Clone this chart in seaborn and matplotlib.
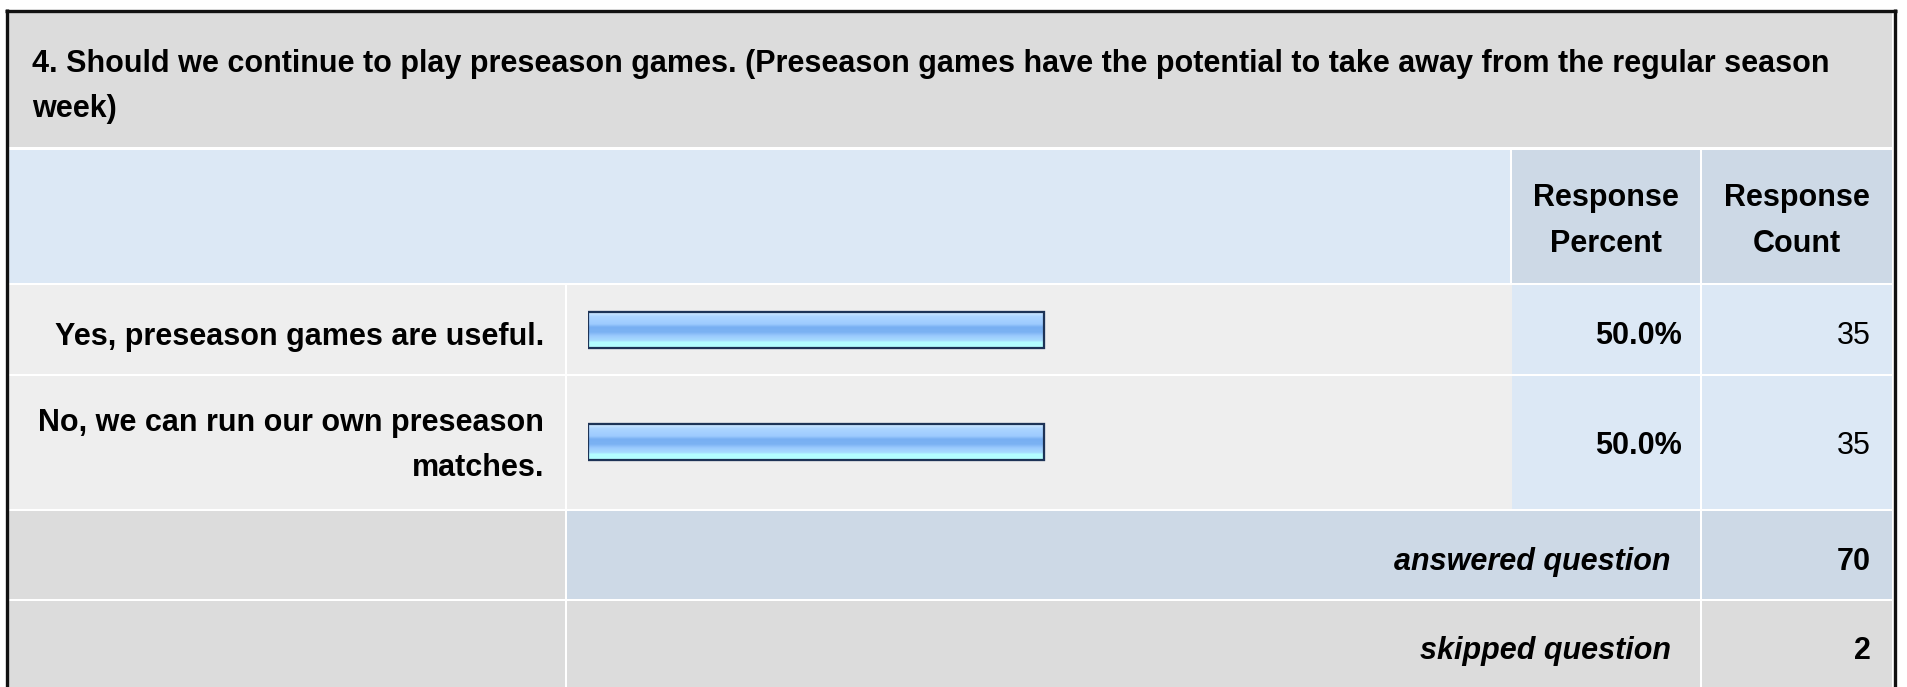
import numpy as np
import matplotlib
matplotlib.use("Agg")
import matplotlib.pyplot as plt
from matplotlib.patches import Rectangle
from matplotlib.colors import to_rgb
import pandas as pd
import seaborn as sns

# survey data
question = ["4. Should we continue to play preseason games. (Preseason games have the potential to take away from the regular season",
            "week)"]
answers = ["Yes, preseason games are useful.", "No, we can run our own preseason matches."]
answer_lines = [["Yes, preseason games are useful."], ["No, we can run our own preseason", "matches."]]
percents = [50.0, 50.0]
counts = [35, 35]
answered = 70
skipped = 2

sns.set_style("white")
plt.rcParams['font.family'] = ['Liberation Sans', 'DejaVu Sans']
plt.rcParams['text.color'] = 'black'
FS = 22

W, H = 1907, 687
fig = plt.figure(figsize=(W / 100, H / 100), dpi=100)
ax = fig.add_axes([0, 0, 1, 1])
ax.set_xlim(0, W)
ax.set_ylim(H, 0)
ax.axis("off")

# table grid (pixel layout)
L0, L1 = 9, 565
B0, B1 = 567, 1512
P0, P1 = 1512, 1700
C0, C1 = 1702, 1892
rows = {"title": (13, 147), "head": (150, 283), "r1": (285, 374),
        "r2": (376, 509), "ans": (511, 599), "skp": (601, 690)}
shift = {"r1": 4, "r2": 0, "ans": 4, "skp": 4}

GRAY = "#dcdcdc"
LBLUE = "#dce8f5"
MBLUE = "#cdd9e6"
LGRAY = "#eeeeee"

def cell(x0, x1, row, color):
    y0, y1 = rows[row]
    ax.add_patch(Rectangle((x0, y0), x1 - x0, y1 - y0, facecolor=color, edgecolor="none", zorder=1))

cell(L0, C1, "title", GRAY)
cell(L0, B1 - 2, "head", LBLUE)
cell(P0, P1, "head", MBLUE)
cell(C0, C1, "head", MBLUE)
for r in ["r1", "r2"]:
    cell(L0, L1, r, LGRAY)
    cell(B0, B1, r, LGRAY)
    cell(P0, P1, r, LBLUE)
    cell(C0, C1, r, LBLUE)
cell(L0, L1, "ans", GRAY)
cell(B0, P1, "ans", MBLUE)
cell(C0, C1, "ans", MBLUE)
cell(L0, L1, "skp", GRAY)
cell(B0, P1, "skp", GRAY)
cell(C0, C1, "skp", GRAY)

# outer frame
ax.plot([6.5, 6.5], [9, H], color="#111111", lw=2.4, zorder=3, solid_capstyle="butt")
ax.plot([5, 1897], [10.5, 10.5], color="#111111", lw=2.4, zorder=3, solid_capstyle="butt")
ax.plot([1895, 1895], [9, H], color="#111111", lw=2.4, zorder=3, solid_capstyle="butt")

# texts
ax.text(32, 72, question[0], fontsize=FS, fontweight="bold", va="baseline", ha="left", zorder=4)
ax.text(32, 117, question[1], fontsize=FS, fontweight="bold", va="baseline", ha="left", zorder=4)

for cx, lines in [((P0 + P1) / 2, ["Response", "Percent"]), ((C0 + C1) / 2, ["Response", "Count"])]:
    for k, t in enumerate(lines):
        ax.text(cx, 206 + 46 * k, t, fontsize=FS, fontweight="bold", ha="center", va="baseline", zorder=4)

for r, lines, p, c in zip(["r1", "r2"], answer_lines, percents, counts):
    y0, y1 = rows[r]
    mid = (y0 + y1) / 2 + shift[r]
    base = mid + 11 - 23 * (len(lines) - 1)
    for k, t in enumerate(lines):
        ax.text(L1 - 21, base + 46 * k, t, fontsize=FS, fontweight="bold", ha="right", va="baseline", zorder=4)
    ax.text(P1 - 18, mid + 11, f"{p:.1f}%", fontsize=FS, fontweight="bold", ha="right", va="baseline", zorder=4)
    ax.text(C1 - 21, mid + 11, str(c), fontsize=FS, ha="right", va="baseline", zorder=4)

for r, label, val in [("ans", "answered question", answered), ("skp", "skipped question", skipped)]:
    y0, y1 = rows[r]
    mid = (y0 + min(y1, H)) / 2 + shift[r]
    ax.text(P1 - 29, mid + 11, label, fontsize=FS, fontweight="bold", style="italic", ha="right", va="baseline", zorder=4)
    ax.text(C1 - 21, mid + 11, str(val), fontsize=FS, fontweight="bold", ha="right", va="baseline", zorder=4)

# bar chart in the bar column: 0..100 % maps onto 588..1500 px
bx0, bx1 = 588, 1500
by0, by1 = rows["r1"][0], rows["r2"][1]
axb = fig.add_axes([bx0 / W, 1 - by1 / H, (bx1 - bx0) / W, (by1 - by0) / H])
df = pd.DataFrame({"answer": answers, "percent": percents})
sns.barplot(data=df, x="percent", y="answer", orient="h", ax=axb, width=0.32,
            color="#8fc0f8", edgecolor="#1d3356", linewidth=1.5)
axb.set_xlim(0, 100)
axb.set_ylim(1.6, -0.4)
axb.axis("off")
axb.patch.set_alpha(0)

stops = [(0.0, "#d4ecff"), (0.12, "#acd5ff"), (0.33, "#9ecbff"), (0.42, "#78aff2"),
         (0.56, "#7bb2f3"), (0.66, "#9ac9fd"), (0.8, "#a8ddff"), (0.84, "#b3fdff"), (1.0, "#b4ffff")]
pos = np.linspace(0, 1, 64)
sp = [s[0] for s in stops]
rgb = np.array([to_rgb(s[1]) for s in stops])
grad = np.stack([np.interp(pos, sp, rgb[:, i]) for i in range(3)], axis=-1)[:, None, :]
for bar in list(axb.patches):
    x0, y0 = bar.get_x(), bar.get_y()
    w, h = bar.get_width(), bar.get_height()
    im = axb.imshow(grad, extent=(x0, x0 + w, y0 + h, y0), origin="upper", aspect="auto", zorder=2)
    im.set_clip_path(bar)
    axb.add_patch(Rectangle((x0, y0), w, h, facecolor="none", edgecolor="#1d3356", lw=1.6, zorder=3))
axb.set_xlim(0, 100)
axb.set_ylim(1.6, -0.4)

fig.savefig("out.png", dpi=100)
